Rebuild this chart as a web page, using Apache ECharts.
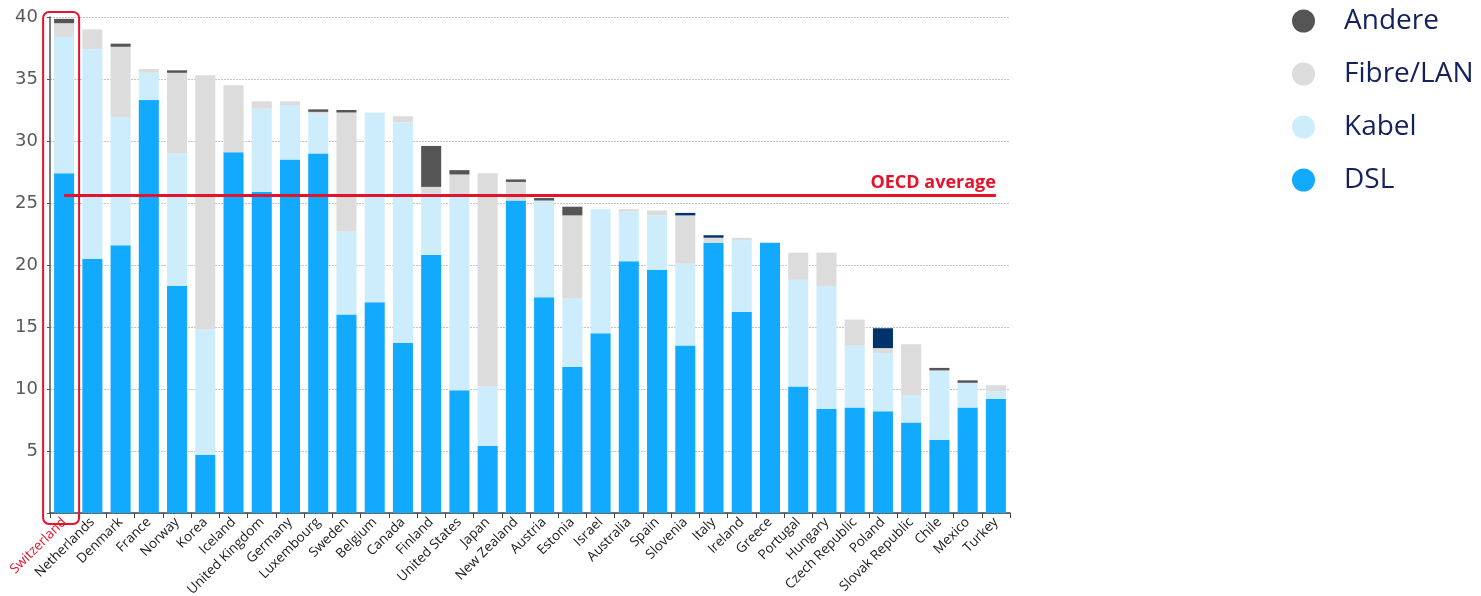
<!DOCTYPE html>
<html>
<head>
<meta charset="utf-8">
<script src="https://cdn.jsdelivr.net/npm/echarts@6/dist/echarts.min.js"></script>
<style>
html,body{margin:0;padding:0;background:#fff;}
#chart{width:1481px;height:596px;}
</style>
</head>
<body>
<div id="chart"></div>
<script>
const categories = ['Switzerland','Netherlands','Denmark','France','Norway','Korea','Iceland','United Kingdom','Germany','Luxembourg','Sweden','Belgium','Canada','Finland','United States','Japan','New Zealand','Austria','Estonia','Israel','Australia','Spain','Slovenia','Italy','Ireland','Greece','Portugal','Hungary','Czech Republic','Poland','Slovak Republic','Chile','Mexico','Turkey'];
const dsl    = [27.4,20.5,21.6,33.3,18.3,4.7,29.1,25.9,28.5,29.0,16.0,17.0,13.7,20.8,9.9,5.4,25.2,17.4,11.8,14.5,20.3,19.6,13.5,21.8,16.2,21.8,10.2,8.4,8.5,8.2,7.3,5.9,8.5,9.2];
const kabel  = [11.0,16.9,10.3,2.2,10.7,10.1,0,6.7,4.4,3.2,6.7,15.3,17.8,5.0,15.6,4.8,0,7.8,5.5,10.0,4.0,4.4,6.6,0,5.8,0,8.6,9.9,5.0,4.7,2.2,5.6,2.0,0.6];
const fibre  = [1.1,1.6,5.7,0.3,6.5,20.5,5.4,0.6,0.3,0.15,9.6,0,0.5,0.5,1.8,17.2,1.5,0,6.7,0,0.2,0.4,3.9,0.4,0.2,0,2.2,2.7,2.1,0.4,4.1,0,0,0.5];
const andere = [0.35,0,0.25,0,0.2,0,0,0,0,0.2,0.2,0,0,3.3,0.35,0,0.2,0.2,0.7,0,0,0,0,0,0,0,0,0,0,0,0,0.2,0.2,0];
const sonstige = [0,0,0,0,0,0,0,0,0,0,0,0,0,0,0,0,0,0,0,0,0,0,0.2,0.2,0,0,0,0,0,1.6,0,0,0,0];
const oecdAverage = 25.6;
const yTicks = [0,5,10,15,20,25,30,35,40];
const legendNames = ['Andere','Fibre/LAN','Kabel','DSL'];

const chart = echarts.init(document.getElementById('chart'), null, {renderer:'canvas'});
const RED = '#e3132c';
function bar(name, data, color, extra){
  return Object.assign({
    name, type:'bar', stack:'total', data,
    barCategoryGap:'29%',
    itemStyle:{color},
    emphasis:{disabled:true}
  }, extra||{});
}
const option = {
  animation:false,
  backgroundColor:'#fff',
  grid:{left:50, right:471, top:17, bottom:83, containLabel:false, outerBoundsMode:'none'},
  legend:{
    orient:'vertical', left:1287, top:2,
    data:legendNames, icon:'circle',
    itemWidth:23, itemHeight:23, itemGap:25,
    textStyle:{fontSize:28, color:'#14215c', fontFamily:'Open Sans', lineHeight:23, padding:[0,0,0,24]}
  },
  xAxis:{
    type:'category', data:categories,
    axisLine:{show:true, lineStyle:{color:'#444', width:1.5}},
    axisTick:{show:true, alignWithLabel:false, length:5, lineStyle:{color:'#444'}},
    axisLabel:{
      rotate:45, interval:0, margin:7,
      fontSize:13.5, fontFamily:'Open Sans', color:'#1a1a1a',
      formatter:(v,i)=> i===0 ? '{hl|'+v+'}' : v,
      rich:{hl:{color:RED, fontSize:13.5, fontFamily:'Open Sans'}}
    }
  },
  yAxis:{
    type:'value', min:0, max:40, interval:5,
    axisLine:{show:true, lineStyle:{color:'#555', width:1.5}},
    axisTick:{show:true, length:3, lineStyle:{color:'#555'}},
    axisLabel:{fontSize:18, color:'#595959', fontFamily:'DejaVu Sans', margin:12,
      formatter:v=> (v===0 ? '' : String(v))},
    splitLine:{show:true, lineStyle:{color:'#c4c4c4', type:[2,1], width:1}}
  },
  series:[
    bar('DSL', dsl, '#12aaff', {
      markLine:{
        silent:true, symbol:'none',
        lineStyle:{color:RED, width:3, type:'solid'},
        label:{show:true, position:'insideEndTop', formatter:'OECD average', color:RED,
          fontSize:18, fontWeight:'bold', fontFamily:'Open Sans', distance:[0,4]},
        data:[[{coord:[categories[0], oecdAverage]},{coord:[categories[categories.length-1], oecdAverage]}]]
      }
    }),
    bar('Kabel', kabel, '#cdedfd'),
    bar('Fibre/LAN', fibre, '#dcdcdc'),
    bar('Andere', andere, '#555555'),
    bar('Sonstige', sonstige, '#00336a')
  ]
};
chart.setOption(option);

// highlight box around the first category, positioned through the axes
const cx = chart.convertToPixel({xAxisIndex:0}, categories[0]);
const yTop = chart.convertToPixel({yAxisIndex:0}, yTicks[yTicks.length-1]);
const yBot = chart.convertToPixel({yAxisIndex:0}, yTicks[0]);
chart.setOption({
  graphic:[{
    type:'rect', z:100, silent:true,
    shape:{x:cx-21, y:yTop-5, width:36, height:(yBot-yTop)+16, r:6},
    style:{fill:'none', stroke:RED, lineWidth:2}
  }]
});
</script>
</body>
</html>
